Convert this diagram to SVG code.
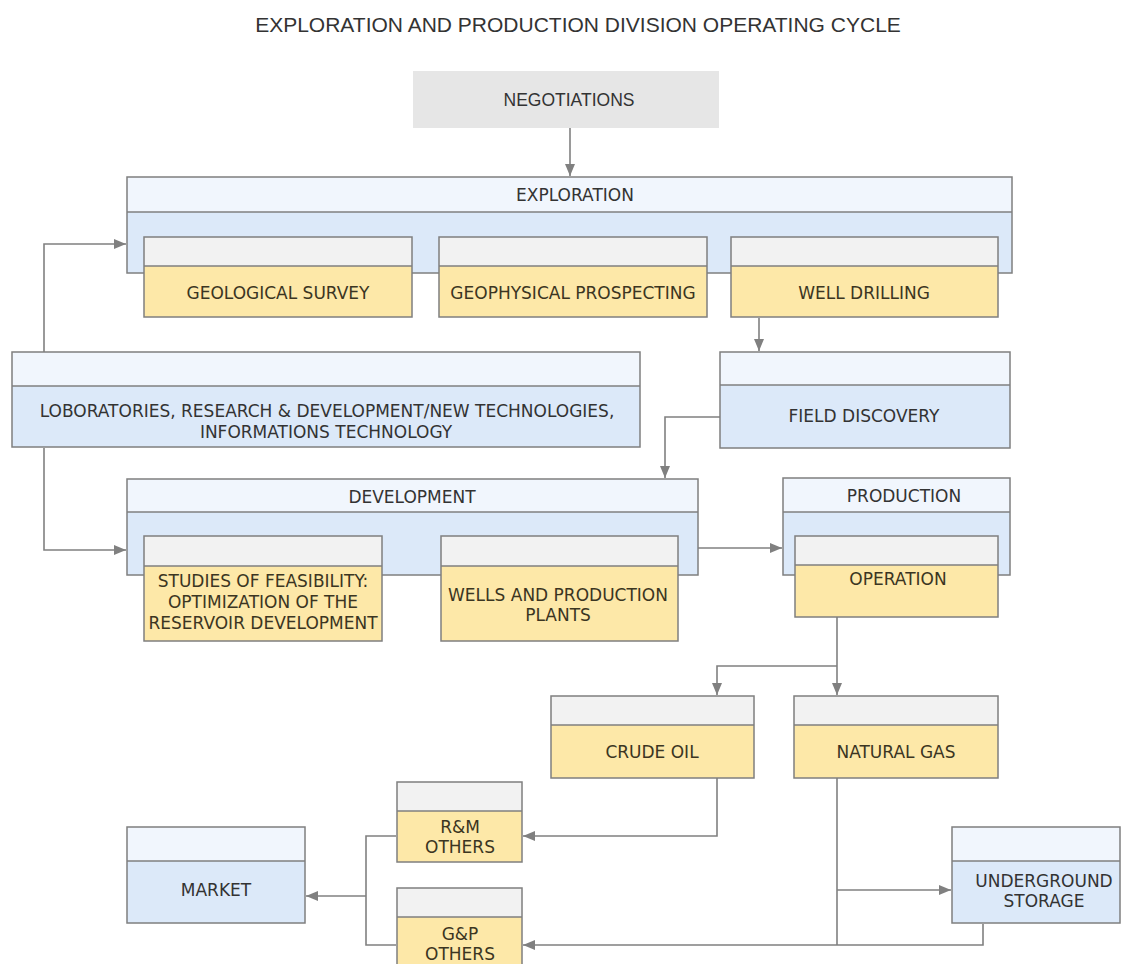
<svg xmlns="http://www.w3.org/2000/svg" width="1121" height="964" viewBox="0 0 1121 964">
<style>
.bg{fill:#ffffff}
.box{stroke:#7f7f7f;stroke-width:1.5}
.hdr{fill:#f1f6fd}
.blu{fill:#dce9f9}
.gry{fill:#f2f2f2}
.yel{fill:#fde8a8}
.div{stroke:#7f7f7f;stroke-width:1.5;fill:none}
.t{font-family:"DejaVu Sans",Verdana,sans-serif;font-size:17px;fill:#333333;text-anchor:middle}
.ty{font-family:"DejaVu Sans",Verdana,sans-serif;font-size:17px;fill:#3b3522;text-anchor:middle}
.ttl{font-family:"Liberation Sans",Arial,sans-serif;font-size:21px;fill:#333333;text-anchor:middle}
.neg{font-family:"Liberation Sans",Arial,sans-serif;font-size:17.5px;fill:#333333;text-anchor:middle}
.c{stroke:#808080;stroke-width:1.6;fill:none}
.ca{stroke:#808080;stroke-width:1.6;fill:none;marker-end:url(#ah)}
</style>
<defs>
<marker id="ah" markerUnits="userSpaceOnUse" viewBox="0 0 12 10" refX="12" refY="5" markerWidth="12" markerHeight="10" orient="auto">
<path d="M0,0 L12,5 L0,10 z" fill="#808080"/>
</marker>
</defs>
<rect class="bg" x="0" y="0" width="1121" height="964"/>
<text class="ttl" x="578" y="32">EXPLORATION AND PRODUCTION DIVISION OPERATING CYCLE</text>

<g id="connectors">
<path class="ca" d="M570,128 V176"/>
<path class="ca" d="M44,352 V244 H126"/>
<path class="ca" d="M44,448 V550 H126"/>
<path class="ca" d="M759,318 V351"/>
<path class="ca" d="M720,417 H665 V478"/>
<path class="ca" d="M698,548 H782"/>
<path class="c" d="M837,617 V666"/>
<path class="ca" d="M837,666 V695"/>
<path class="ca" d="M837,666 H717 V695"/>
<path class="ca" d="M717,778 V836 H523"/>
<path class="c" d="M837,778 V945"/>
<path class="ca" d="M837,890 H951"/>
<path class="ca" d="M983,924 V945 H523"/>
<path class="c" d="M396,836 H366 V945 H396"/>
<path class="ca" d="M366,896 H306"/>
</g>

<g id="negotiations">
<rect x="413" y="71" width="306" height="57" fill="#e6e6e6"/>
<text class="neg" x="569" y="106">NEGOTIATIONS</text>
</g>

<g id="exploration">
<rect class="hdr" x="127" y="177" width="885" height="35"/>
<rect class="blu" x="127" y="212" width="885" height="61"/>
<rect class="box" x="127" y="177" width="885" height="96" fill="none"/>
<line class="div" x1="127" y1="212" x2="1012" y2="212"/>
<text class="t" x="575" y="201">EXPLORATION</text>
</g>

<g id="geological-survey">
<rect class="gry" x="144" y="237" width="268" height="29"/>
<rect class="yel" x="144" y="266" width="268" height="51"/>
<rect class="box" x="144" y="237" width="268" height="80" fill="none"/>
<line class="div" x1="144" y1="266" x2="412" y2="266"/>
<text class="ty" x="278" y="299">GEOLOGICAL SURVEY</text>
</g>

<g id="geophysical-prospecting">
<rect class="gry" x="439" y="237" width="268" height="29"/>
<rect class="yel" x="439" y="266" width="268" height="51"/>
<rect class="box" x="439" y="237" width="268" height="80" fill="none"/>
<line class="div" x1="439" y1="266" x2="707" y2="266"/>
<text class="ty" x="573" y="299">GEOPHYSICAL PROSPECTING</text>
</g>

<g id="well-drilling">
<rect class="gry" x="731" y="237" width="267" height="29"/>
<rect class="yel" x="731" y="266" width="267" height="51"/>
<rect class="box" x="731" y="237" width="267" height="80" fill="none"/>
<line class="div" x1="731" y1="266" x2="998" y2="266"/>
<text class="ty" x="864" y="299">WELL DRILLING</text>
</g>

<g id="laboratories">
<rect class="hdr" x="12" y="352" width="628" height="34"/>
<rect class="blu" x="12" y="386" width="628" height="61"/>
<rect class="box" x="12" y="352" width="628" height="95" fill="none"/>
<line class="div" x1="12" y1="386" x2="640" y2="386"/>
<text class="t" x="327" y="417">LOBORATORIES, RESEARCH &amp; DEVELOPMENT/NEW TECHNOLOGIES,</text>
<text class="t" x="326" y="438">INFORMATIONS TECHNOLOGY</text>
</g>

<g id="field-discovery">
<rect class="hdr" x="720" y="352" width="290" height="33"/>
<rect class="blu" x="720" y="385" width="290" height="63"/>
<rect class="box" x="720" y="352" width="290" height="96" fill="none"/>
<line class="div" x1="720" y1="385" x2="1010" y2="385"/>
<text class="t" x="864" y="422">FIELD DISCOVERY</text>
</g>

<g id="development">
<rect class="hdr" x="127" y="479" width="571" height="33"/>
<rect class="blu" x="127" y="512" width="571" height="63"/>
<rect class="box" x="127" y="479" width="571" height="96" fill="none"/>
<line class="div" x1="127" y1="512" x2="698" y2="512"/>
<text class="t" x="412" y="503">DEVELOPMENT</text>
</g>

<g id="studies-of-feasibility">
<rect class="gry" x="144" y="536" width="238" height="30"/>
<rect class="yel" x="144" y="566" width="238" height="75"/>
<rect class="box" x="144" y="536" width="238" height="105" fill="none"/>
<line class="div" x1="144" y1="566" x2="382" y2="566"/>
<text class="ty" x="263" y="587">STUDIES OF FEASIBILITY:</text>
<text class="ty" x="263" y="608">OPTIMIZATION OF THE</text>
<text class="ty" x="263" y="629">RESERVOIR DEVELOPMENT</text>
</g>

<g id="wells-and-production-plants">
<rect class="gry" x="441" y="536" width="237" height="30"/>
<rect class="yel" x="441" y="566" width="237" height="75"/>
<rect class="box" x="441" y="536" width="237" height="105" fill="none"/>
<line class="div" x1="441" y1="566" x2="678" y2="566"/>
<text class="ty" x="558" y="601">WELLS AND PRODUCTION</text>
<text class="ty" x="558" y="621">PLANTS</text>
</g>

<g id="production">
<rect class="hdr" x="783" y="478" width="227" height="34"/>
<rect class="blu" x="783" y="512" width="227" height="63"/>
<rect class="box" x="783" y="478" width="227" height="97" fill="none"/>
<line class="div" x1="783" y1="512" x2="1010" y2="512"/>
<text class="t" x="904" y="502">PRODUCTION</text>
</g>

<g id="operation">
<rect class="gry" x="795" y="536" width="203" height="29"/>
<rect class="yel" x="795" y="565" width="203" height="52"/>
<rect class="box" x="795" y="536" width="203" height="81" fill="none"/>
<line class="div" x1="795" y1="565" x2="998" y2="565"/>
<text class="ty" x="898" y="585">OPERATION</text>
</g>

<g id="crude-oil">
<rect class="gry" x="551" y="696" width="203" height="29"/>
<rect class="yel" x="551" y="725" width="203" height="53"/>
<rect class="box" x="551" y="696" width="203" height="82" fill="none"/>
<line class="div" x1="551" y1="725" x2="754" y2="725"/>
<text class="ty" x="652" y="758">CRUDE OIL</text>
</g>

<g id="natural-gas">
<rect class="gry" x="794" y="696" width="204" height="29"/>
<rect class="yel" x="794" y="725" width="204" height="53"/>
<rect class="box" x="794" y="696" width="204" height="82" fill="none"/>
<line class="div" x1="794" y1="725" x2="998" y2="725"/>
<text class="ty" x="896" y="758">NATURAL GAS</text>
</g>

<g id="rm-others">
<rect class="gry" x="397" y="782" width="125" height="29"/>
<rect class="yel" x="397" y="811" width="125" height="51"/>
<rect class="box" x="397" y="782" width="125" height="80" fill="none"/>
<line class="div" x1="397" y1="811" x2="522" y2="811"/>
<text class="ty" x="460" y="833">R&amp;M</text>
<text class="ty" x="460" y="853">OTHERS</text>
</g>

<g id="gp-others">
<rect class="gry" x="397" y="888" width="125" height="29"/>
<rect class="yel" x="397" y="917" width="125" height="60"/>
<rect class="box" x="397" y="888" width="125" height="89" fill="none"/>
<line class="div" x1="397" y1="917" x2="522" y2="917"/>
<text class="ty" x="460" y="940">G&amp;P</text>
<text class="ty" x="460" y="960">OTHERS</text>
</g>

<g id="market">
<rect class="hdr" x="127" y="827" width="178" height="34"/>
<rect class="blu" x="127" y="861" width="178" height="62"/>
<rect class="box" x="127" y="827" width="178" height="96" fill="none"/>
<line class="div" x1="127" y1="861" x2="305" y2="861"/>
<text class="t" x="216" y="896">MARKET</text>
</g>

<g id="underground-storage">
<rect class="hdr" x="952" y="827" width="168" height="34"/>
<rect class="blu" x="952" y="861" width="168" height="62"/>
<rect class="box" x="952" y="827" width="168" height="96" fill="none"/>
<line class="div" x1="952" y1="861" x2="1120" y2="861"/>
<text class="t" x="1044" y="887">UNDERGROUND</text>
<text class="t" x="1044" y="907">STORAGE</text>
</g>
</svg>
